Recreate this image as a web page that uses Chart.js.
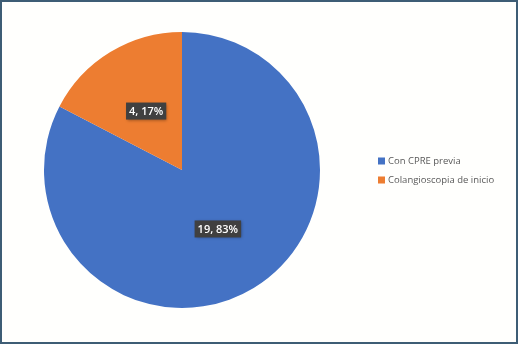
<!DOCTYPE html>
<html>
<head>
<meta charset="utf-8">
<script src="https://cdn.jsdelivr.net/npm/chart.js@4"></script>
<style>
  body { margin: 0; background: #ffffff; }
  .frame {
    width: 518px; height: 344px; box-sizing: border-box;
    border: 2px solid #3e5d75; background: #fffffd; position: relative;
  }
  canvas { display: block; }
</style>
</head>
<body>
<div class="frame"><canvas id="pieChart" width="514" height="340"></canvas></div>
<script>
// Change Label & Data Set Here
var labels = ['Con CPRE previa', 'Colangioscopia de inicio'];
var values = [19, 4];
var percents = ['83%', '17%'];
var colors = ['#4472c4', '#ed7d31'];

/**
 * Draw value labels in dark boxes on each slice
 */
const sliceLabels = {
    id: 'sliceLabels',
    afterDatasetsDraw(chart) {
        const { ctx } = chart;
        const meta = chart.getDatasetMeta(0);
        ctx.save();
        ctx.font = '600 11px "Open Sans"';
        ctx.textAlign = 'center';
        ctx.textBaseline = 'middle';
        meta.data.forEach((arc, i) => {
            const mid = (arc.startAngle + arc.endAngle) / 2;
            const r = arc.outerRadius * 0.5;
            const x = arc.x + Math.cos(mid) * r;
            const y = arc.y + Math.sin(mid) * r;
            const text = values[i] + ', ' + percents[i];
            const w = ctx.measureText(text).width + 6;
            const h = 17;
            ctx.shadowColor = 'rgba(0,0,0,0.35)';
            ctx.shadowBlur = 3;
            ctx.shadowOffsetX = 1;
            ctx.shadowOffsetY = 1;
            ctx.fillStyle = '#404040';
            ctx.fillRect(x - w / 2, y - h / 2, w, h);
            ctx.shadowColor = 'transparent';
            ctx.fillStyle = '#ffffff';
            ctx.fillText(text, x, y + 0.5);
        });
        ctx.restore();
    }
};

/**
 * Draw the legend on the right side
 */
const sideLegend = {
    id: 'sideLegend',
    afterDraw(chart) {
        const { ctx } = chart;
        ctx.save();
        ctx.font = '9.5px "Open Sans"';
        ctx.textBaseline = 'middle';
        labels.forEach((label, i) => {
            const y = 159 + i * 19;
            ctx.fillStyle = colors[i];
            ctx.fillRect(376, y - 3.5, 7, 7);
            ctx.fillStyle = '#595959';
            ctx.fillText(label, 386, y);
        });
        ctx.restore();
    }
};

const pieChart = new Chart(
    document.getElementById('pieChart'),
    {
        type: 'pie',
        data: {
            labels: labels,
            datasets: [{
                data: values,
                backgroundColor: colors,
                borderWidth: 0,
            }]
        },
        options: {
            responsive: false,
            animation: false,
            layout: {
                padding: { left: 42, top: 30, right: 196, bottom: 34 }
            },
            plugins: {
                legend: { display: false },
                tooltip: { enabled: false },
            }
        },
        plugins: [sliceLabels, sideLegend]
    }
);
</script>
</body>
</html>
